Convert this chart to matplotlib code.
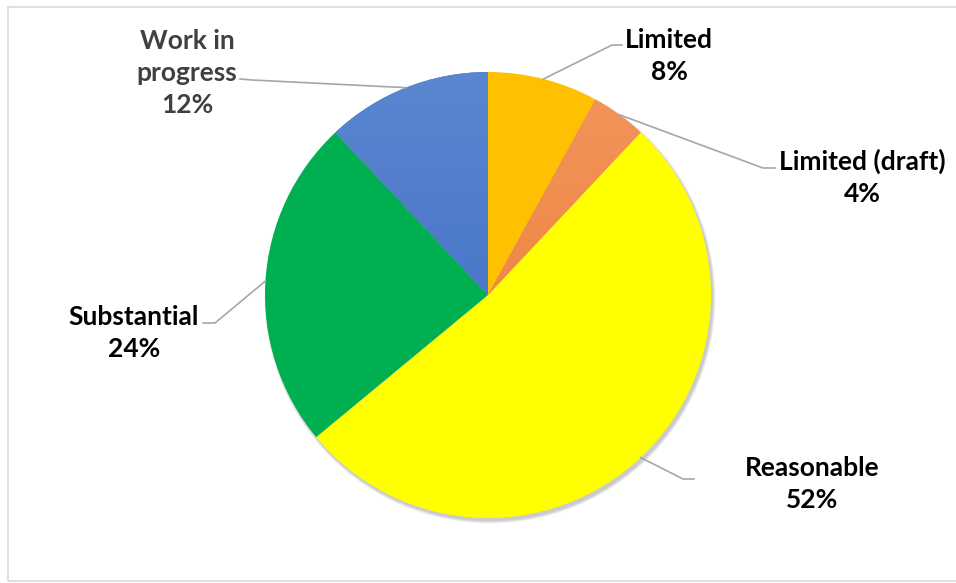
import numpy as np
import matplotlib.pyplot as plt
from matplotlib.patches import Rectangle, Circle
from matplotlib.colors import LinearSegmentedColormap

# data
labels = ['Limited', 'Limited (draft)', 'Reasonable', 'Substantial', 'Work in\nprogress']
shares = [8, 4, 52, 24, 12]
colors = ['#FFC000', '#F08A4C', '#FFFF00', '#00B050', '#4F7BCB']
label_colors = ['#000000', '#000000', '#000000', '#000000', '#404040']

W, H = 956, 583
def Y(y):
    return H - y

# label layout in pixel coords: text centre, elbow, end of leader
layout = [
    dict(text=(669, 56), elbow=(612, 45), end=(622, 45)),
    dict(text=(862, 177), elbow=(763, 168), end=(775, 168)),
    dict(text=(812, 484), elbow=(683, 479), end=(694, 479)),
    dict(text=(134, 333), elbow=(215, 323), end=(203, 323)),
    dict(text=(187, 73), elbow=(252, 80), end=(240, 79)),
]

cx, cy, r = 488, Y(295), 223

fig = plt.figure(figsize=(W / 100, H / 100), dpi=100)
ax = fig.add_axes([0, 0, 1, 1])

# soft shadow under the pie
for k in range(6):
    ax.add_patch(Circle((cx + 2, cy - 3), r + 0.5 * k, color='black',
                        alpha=0.035, lw=0, zorder=0))

wedges, _ = ax.pie(shares, center=(cx, cy), radius=r, startangle=90,
                   counterclock=False, colors=colors,
                   wedgeprops=dict(linewidth=0))
for w in wedges:
    w.set_zorder(1)

# vertical gradients on the orange and blue slices
grads = {1: ('#F2955C', '#EE7A2F'), 4: ('#5B86D0', '#3A68C2')}
for i, (top, bot) in grads.items():
    cmap = LinearSegmentedColormap.from_list('g%d' % i, [bot, top])
    grad = np.linspace(0, 1, 256).reshape(-1, 1)
    im = ax.imshow(grad, cmap=cmap, origin='lower', aspect='auto',
                   extent=(cx - r, cx + r, cy - r, cy + r), zorder=2)
    im.set_clip_path(wedges[i])

ax.set_xlim(0, W)
ax.set_ylim(0, H)
ax.set_aspect('auto')
ax.axis('off')

# chart frame
ax.add_patch(Rectangle((8, Y(581)), W + 10, 574, fill=False,
                       edgecolor='#D9D9D9', lw=1.2, zorder=0))

for w, lab, v, lay, tc in zip(wedges, labels, shares, layout, label_colors):
    mid = np.deg2rad((w.theta1 + w.theta2) / 2)
    sx, sy = cx + r * np.cos(mid), cy + r * np.sin(mid)
    ex, ey = lay['elbow']
    tx, ty = lay['end']
    ax.plot([sx, ex, tx], [sy, Y(ey), Y(ty)], color='#A6A6A6', lw=1.2, zorder=3)
    ax.text(lay['text'][0], Y(lay['text'][1]), f'{lab}\n{v}%', ha='center',
            va='center', fontsize=19, fontweight='bold', family='Lato',
            color=tc, linespacing=1.4, zorder=4)

fig.savefig('out.png', dpi=100)
